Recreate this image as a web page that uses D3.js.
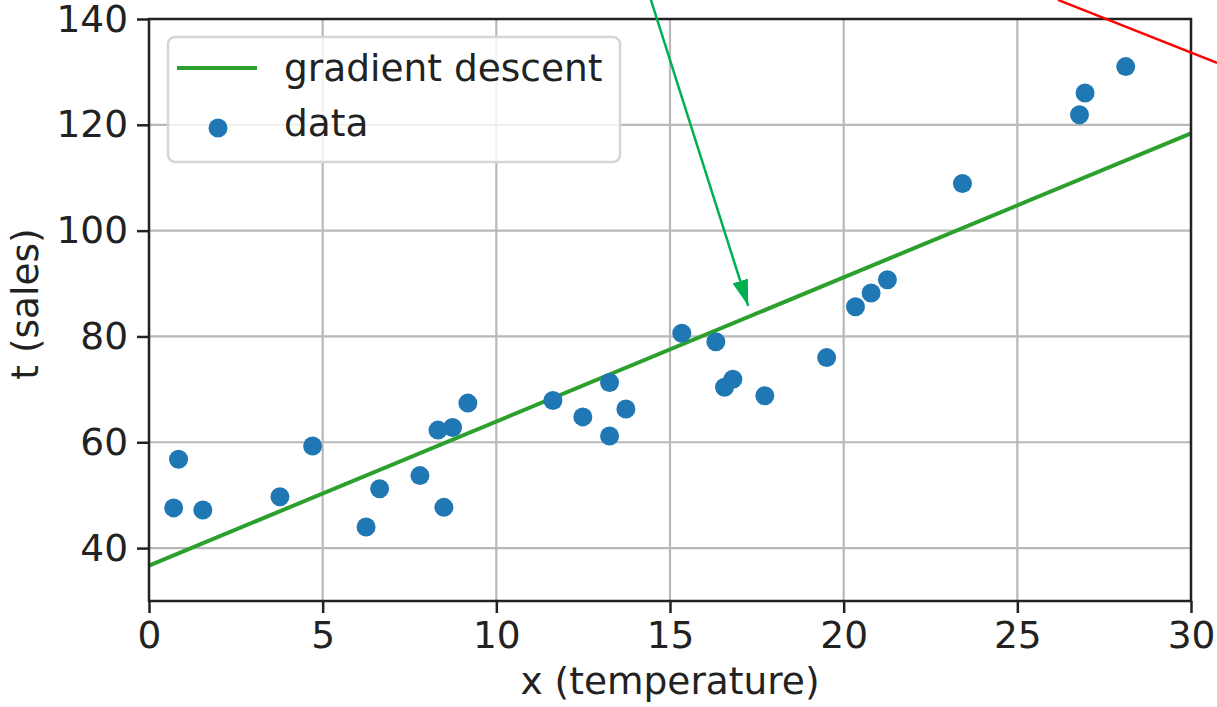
<!DOCTYPE html>
<html>
<head>
<meta charset="utf-8">
<script src="https://cdn.jsdelivr.net/npm/d3@7"></script>
<style>
    body { margin: 0; background: white; }
    svg { display: block; font-family: "DejaVu Sans", sans-serif; }
</style>
</head>
<body>
<div id="chart"></div>
<script>
const width = 1217;
const height = 707;
const MARGIN_LEFT = 149;
const MARGIN_RIGHT = 26;
const MARGIN_TOP = 19;
const MARGIN_DOWN = 106;
const FONT = '37.5px';

// data
var temperature = [0.71, 0.85, 1.55, 3.77, 4.71, 6.25, 6.64, 7.80, 8.32, 8.49,
    8.74, 9.18, 11.63, 12.49, 13.26, 13.26, 13.73, 15.34, 16.32, 16.57,
    16.81, 17.73, 19.51, 20.34, 20.79, 21.26, 23.42, 26.79, 26.95, 28.12];
var sales = [47.6, 56.8, 47.2, 49.7, 59.3, 44.0, 51.2, 53.7, 62.3, 47.7,
    62.8, 67.4, 67.9, 64.8, 71.3, 61.2, 66.3, 80.6, 79.0, 70.4,
    71.9, 68.8, 76.0, 85.6, 88.2, 90.7, 108.9, 121.9, 126.0, 131.0];

// fitted line (gradient descent), end points
var fitX = [0, 30];
var fitY = [36.7, 118.4];

var xTicks = [0, 5, 10, 15, 20, 25, 30];
var yTicks = [40, 60, 80, 100, 120, 140];

// annotation strokes drawn over the figure, in data units
var greenArrow = [[14.45, 143.6], [17.25, 85.8]];
var redStroke = [[26.17, 143.6], [30.75, 131.7]];

var data = temperature.map((x, i) => ({x: x, t: sales[i]}));

var xScale = d3.scaleLinear()
    .domain([0, 30])
    .range([MARGIN_LEFT, width - MARGIN_RIGHT]);

var yScale = d3.scaleLinear()
    .domain([30, 140])
    .range([height - MARGIN_DOWN, MARGIN_TOP]);

var svg = d3.select('#chart')
    .append('svg')
    .attr('width', width)
    .attr('height', height);

var plotLeft = xScale.range()[0], plotRight = xScale.range()[1];
var plotTop = yScale.range()[1], plotBottom = yScale.range()[0];

// grid
var grid = svg.append('g');
grid.selectAll('.gx')
    .data(xTicks)
    .join('line')
        .attr('x1', d => xScale(d)).attr('x2', d => xScale(d))
        .attr('y1', plotTop).attr('y2', plotBottom)
        .attr('stroke', '#b8b8b8')
        .attr('stroke-width', 2.2);
grid.selectAll('.gy')
    .data(yTicks)
    .join('line')
        .attr('x1', plotLeft).attr('x2', plotRight)
        .attr('y1', d => yScale(d)).attr('y2', d => yScale(d))
        .attr('stroke', '#b8b8b8')
        .attr('stroke-width', 2.2);

// fitted line
svg.append('line')
    .attr('x1', xScale(fitX[0])).attr('y1', yScale(fitY[0]))
    .attr('x2', xScale(fitX[1])).attr('y2', yScale(fitY[1]))
    .attr('stroke', '#2ca02c')
    .attr('stroke-width', 4);

// data points
svg.selectAll('circle.pt')
    .data(data)
    .join('circle')
        .attr('class', 'pt')
        .attr('cx', d => xScale(d.x))
        .attr('cy', d => yScale(d.t))
        .attr('r', 9.5)
        .attr('fill', '#1f77b4');

// axes
var xAxis = svg.append('g')
    .attr('transform', `translate(0, ${plotBottom})`)
    .call(d3.axisBottom(xScale).tickValues(xTicks).tickSize(12).tickPadding(8));
var yAxis = svg.append('g')
    .attr('transform', `translate(${plotLeft}, 0)`)
    .call(d3.axisLeft(yScale).tickValues(yTicks).tickSize(12).tickPadding(9));

[xAxis, yAxis].forEach(function(ax) {
    ax.select('.domain').remove();
    ax.selectAll('line').attr('stroke', '#222').attr('stroke-width', 2.5);
    ax.selectAll('text')
        .attr('fill', '#222')
        .attr('font-family', 'DejaVu Sans')
        .attr('font-size', FONT);
});

// frame
svg.append('rect')
    .attr('x', plotLeft).attr('y', plotTop)
    .attr('width', plotRight - plotLeft).attr('height', plotBottom - plotTop)
    .attr('fill', 'none')
    .attr('stroke', '#222')
    .attr('stroke-width', 2.5);

// axis labels
svg.append('text')
    .attr('x', (plotLeft + plotRight) / 2)
    .attr('y', 694)
    .attr('text-anchor', 'middle')
    .attr('font-size', FONT)
    .attr('fill', '#222')
    .text('x (temperature)');

svg.append('text')
    .attr('transform', `translate(38, ${(plotTop + plotBottom) / 2 - 6}) rotate(-90)`)
    .attr('text-anchor', 'middle')
    .attr('font-size', FONT)
    .attr('fill', '#222')
    .text('t (sales)');

// legend
var legend = svg.append('g');
legend.append('rect')
    .attr('x', 168).attr('y', 37)
    .attr('width', 452).attr('height', 125)
    .attr('rx', 7)
    .attr('fill', 'white')
    .attr('fill-opacity', 0.8)
    .attr('stroke', '#d5d5d5')
    .attr('stroke-width', 2.5);
legend.append('line')
    .attr('x1', 177).attr('x2', 257)
    .attr('y1', 68).attr('y2', 68)
    .attr('stroke', '#2ca02c')
    .attr('stroke-width', 4);
legend.append('circle')
    .attr('cx', 218).attr('cy', 128)
    .attr('r', 9.5)
    .attr('fill', '#1f77b4');
legend.append('text')
    .attr('x', 284).attr('y', 81)
    .attr('font-size', FONT)
    .attr('fill', '#222')
    .text('gradient descent');
legend.append('text')
    .attr('x', 284).attr('y', 136)
    .attr('font-size', FONT)
    .attr('fill', '#222')
    .text('data');

// annotations drawn on top
svg.append('defs').append('marker')
    .attr('id', 'head')
    .attr('viewBox', '0 0 10 10')
    .attr('refX', 10).attr('refY', 5)
    .attr('markerWidth', 26).attr('markerHeight', 16)
    .attr('markerUnits', 'userSpaceOnUse')
    .attr('orient', 'auto')
    .attr('preserveAspectRatio', 'none')
    .append('path')
        .attr('d', 'M0,0 L10,5 L0,10 Z')
        .attr('fill', '#00b050');

svg.append('line')
    .attr('x1', xScale(greenArrow[0][0])).attr('y1', yScale(greenArrow[0][1]))
    .attr('x2', xScale(greenArrow[1][0])).attr('y2', yScale(greenArrow[1][1]))
    .attr('stroke', '#00b050')
    .attr('stroke-width', 2.5)
    .attr('marker-end', 'url(#head)');

svg.append('line')
    .attr('x1', xScale(redStroke[0][0])).attr('y1', yScale(redStroke[0][1]))
    .attr('x2', xScale(redStroke[1][0])).attr('y2', yScale(redStroke[1][1]))
    .attr('stroke', '#ff0000')
    .attr('stroke-width', 2.5);
</script>
</body>
</html>
